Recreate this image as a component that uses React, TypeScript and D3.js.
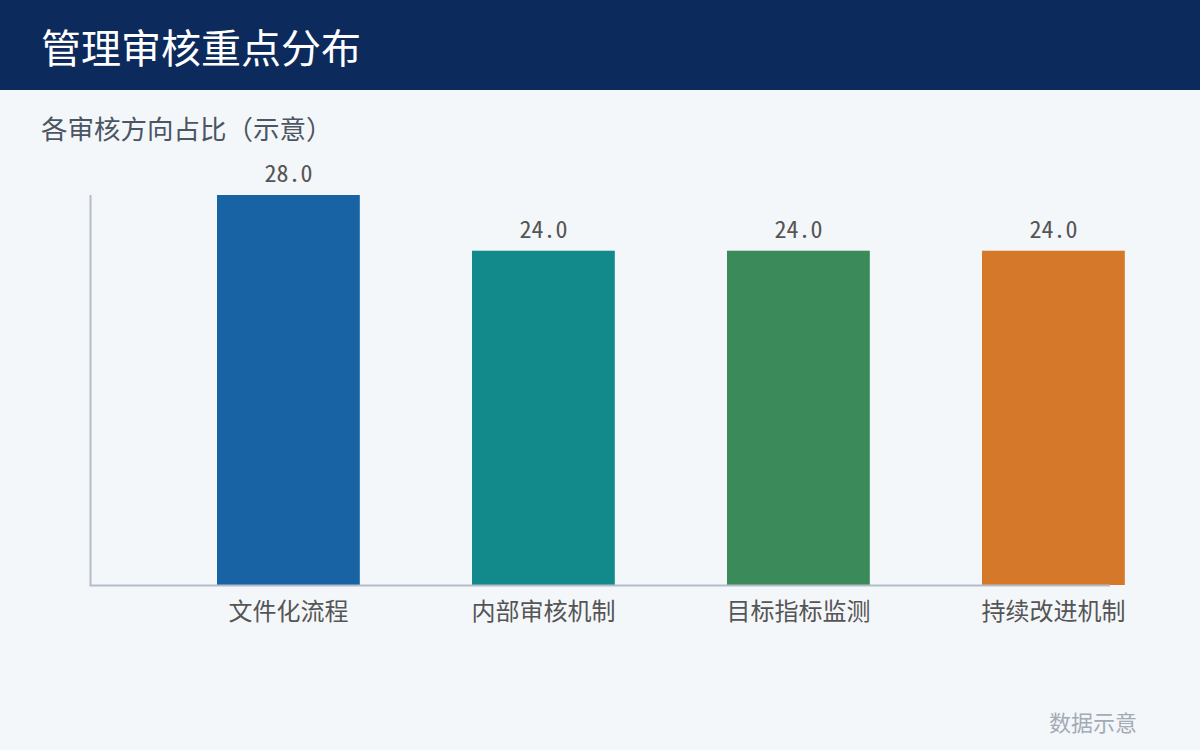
import React from "react";
import * as d3 from "d3";

const categories: string[] = ["文件化流程", "内部审核机制", "目标指标监测", "持续改进机制"];
const values: number[] = [28, 24, 24, 24];
const barColors: string[] = ["#1763a3", "#128a8c", "#3a8a5a", "#d6782a"];

const W = 1200;
const H = 750;
const FONT = "'Noto Sans CJK SC', 'Noto Sans', sans-serif";
const NUM_FONT = "'Noto Sans Mono CJK SC', 'Noto Sans CJK SC', monospace";

export default function App() {
  const axisLeft = 91;
  const axisRight = 1110;
  const plotTop = 195;
  const plotBottom = 585;

  const x = d3
    .scaleBand<string>()
    .domain(categories)
    .range([153.25, 1188.55])
    .paddingInner(0.44)
    .paddingOuter(0.25);

  const y = d3.scaleLinear().domain([0, 28]).range([plotBottom, plotTop]);

  return (
    <svg
      width={W}
      height={H}
      style={{ position: "absolute", left: 0, top: 0, display: "block" }}
      fontFamily={FONT}
    >
      <rect x={0} y={0} width={W} height={H} fill="#f4f7fa" />
      <rect x={0} y={0} width={W} height={90} fill="#0d2a5c" />
      <text x={41} y={46} fill="#ffffff" fontSize={40} dominantBaseline="central">
        管理审核重点分布
      </text>
      <text x={41} y={127} fill="#4b5563" fontSize={26.5} dominantBaseline="central">
        各审核方向占比（示意）
      </text>

      {categories.map((c, i) => (
        <g key={c}>
          <rect
            x={x(c)}
            y={y(values[i])}
            width={x.bandwidth()}
            height={plotBottom - y(values[i])}
            fill={barColors[i]}
          />
          <text
            x={(x(c) as number) + x.bandwidth() / 2}
            y={y(values[i]) - 13}
            textAnchor="middle"
            fill="#555555"
            fontSize={24}
            fontFamily={NUM_FONT}
          >
            {values[i].toFixed(1)}
          </text>
          <text
            x={(x(c) as number) + x.bandwidth() / 2}
            y={plotBottom + 24}
            textAnchor="middle"
            fill="#555"
            fontSize={24}
            dominantBaseline="central"
          >
            {c}
          </text>
        </g>
      ))}

      <line x1={axisLeft - 0.5} x2={axisLeft - 0.5} y1={plotTop} y2={plotBottom + 1} stroke="#b3bdc8" strokeWidth={2} />
      <line x1={axisLeft - 1.5} x2={axisRight} y1={plotBottom + 0.5} y2={plotBottom + 0.5} stroke="#b3bdc8" strokeWidth={2} />

      <text x={1137} y={721} textAnchor="end" fill="#a3abb6" fontSize={22} dominantBaseline="central">
        数据示意
      </text>
    </svg>
  );
}
